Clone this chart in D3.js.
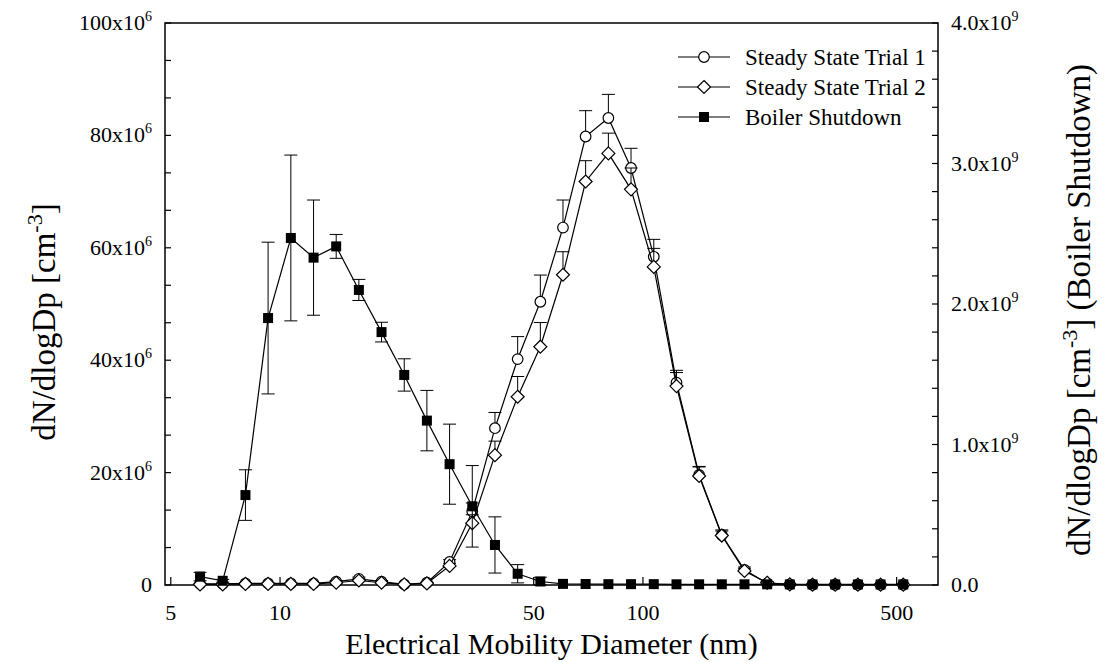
<!DOCTYPE html>
<html>
<head>
<meta charset="utf-8">
<script src="https://cdn.jsdelivr.net/npm/d3@7"></script>
<style>
  body { margin: 0; background: #fff; }
  text { font-family: "Liberation Serif", "Times New Roman", serif; fill: #000; }
</style>
</head>
<body>
<div id="chart"></div>
<script>
var width = 1107;
var height = 662;

// particle diameter channels (nm)
var diameters = [6.02, 6.95, 8.03, 9.27, 10.71, 12.37, 14.28, 16.49, 19.04, 21.99, 25.39, 29.32,
    33.86, 39.10, 45.16, 52.15, 60.2, 69.5, 80.3, 92.7, 107.1, 123.7, 142.8, 164.9,
    190.4, 219.9, 253.9, 293.2, 338.6, 391.0, 451.6, 521.5];

// steady state trial 1, x10^6 cm^-3 (left axis)
var trial1 = [0.2, 0.2, 0.3, 0.3, 0.3, 0.3, 0.6, 1.1, 0.6, 0.1, 0.4, 4.1,
    13.1, 27.9, 40.2, 50.4, 63.6, 79.8, 83.1, 74.2, 58.4, 36.0, 19.6, 8.9,
    2.7, 0.3, 0.1, 0.05, 0.05, 0.05, 0.05, 0.05];
var trial1Err = [0.1, 0.1, 0.1, 0.1, 0.1, 0.1, 0.2, 0.3, 0.2, 0.1, 0.1, 0.4,
    1.5, 2.8, 4.0, 4.75, 4.9, 4.6, 4.2, 3.5, 3.1, 2.2, 1.5, 0.9,
    0.5, 0.2, 0, 0, 0, 0, 0, 0];

// steady state trial 2, x10^6 cm^-3 (left axis)
var trial2 = [0.1, 0.1, 0.2, 0.2, 0.2, 0.2, 0.4, 0.8, 0.4, 0.1, 0.3, 3.4,
    11.0, 23.1, 33.5, 42.4, 55.2, 71.8, 76.8, 70.4, 56.6, 35.4, 19.4, 8.8,
    2.5, 0.4, 0.1, 0.05, 0.05, 0.05, 0.05, 0.05];
var trial2Err = [0.1, 0.1, 0.1, 0.1, 0.1, 0.1, 0.2, 0.3, 0.2, 0.1, 0.1, 0.4,
    1.5, 2.5, 3.6, 4.3, 4.1, 3.7, 3.6, 3.8, 3.3, 2.4, 1.6, 0.8,
    0.4, 0.2, 0, 0, 0, 0, 0, 0];

// boiler shutdown, x10^9 cm^-3 (right axis)
var boiler = [0.06, 0.03, 0.64, 1.90, 2.47, 2.33, 2.41, 2.10, 1.80, 1.495, 1.17, 0.86,
    0.56, 0.285, 0.08, 0.025, 0.008, 0.007, 0.006, 0.006, 0.006, 0.005, 0.005, 0.005,
    0.005, 0.005, 0.004, 0.004, 0.004, 0.004, 0.004, 0.004];
var boilerErr = [0.03, 0.01, 0.18, 0.54, 0.59, 0.41, 0.085, 0.075, 0.07, 0.115, 0.215, 0.285,
    0.29, 0.2, 0.065, 0.03, 0, 0, 0, 0, 0, 0, 0, 0,
    0, 0, 0, 0, 0, 0, 0, 0];

var xTicks = [5, 10, 50, 100, 500];
var leftTicks = [0, 20, 40, 60, 80, 100];
var leftLabels = ['0', '20x10', '40x10', '60x10', '80x10', '100x10'];
var rightTicks = [0, 1, 2, 3, 4];
var rightLabels = ['0.0', '1.0x10', '2.0x10', '3.0x10', '4.0x10'];
var seriesNames = ['Steady State Trial 1', 'Steady State Trial 2', 'Boiler Shutdown'];

var plot = {left: 165, right: 938, top: 23, bottom: 585};

var x = d3.scaleLog().domain([4.82, 650]).range([plot.left, plot.right]);
var yLeft = d3.scaleLinear().domain([0, 100]).range([plot.bottom, plot.top]);
var yRight = d3.scaleLinear().domain([0, 4]).range([plot.bottom, plot.top]);

var svg = d3.select('#chart').append('svg')
    .attr('width', width)
    .attr('height', height);

// frame
svg.append('rect')
    .attr('x', plot.left)
    .attr('y', plot.top)
    .attr('width', plot.right - plot.left)
    .attr('height', plot.bottom - plot.top)
    .attr('fill', 'none')
    .attr('stroke', '#000')
    .attr('stroke-width', 1.5);

var tickLen = 6;

// left ticks: majors every 20, two minors in between
var leftMinor = d3.range(0, 16).map(function (i) { return i * 20 / 3; });
svg.append('g').selectAll('line')
    .data(leftMinor)
    .enter().append('line')
    .attr('x1', plot.left).attr('x2', plot.left + tickLen)
    .attr('y1', function (d) { return yLeft(d); })
    .attr('y2', function (d) { return yLeft(d); })
    .attr('stroke', '#000').attr('stroke-width', 1.2);

// right ticks every 0.2
var rightMinor = d3.range(0, 21).map(function (i) { return i * 0.2; });
svg.append('g').selectAll('line')
    .data(rightMinor)
    .enter().append('line')
    .attr('x1', plot.right).attr('x2', plot.right - tickLen)
    .attr('y1', function (d) { return yRight(d); })
    .attr('y2', function (d) { return yRight(d); })
    .attr('stroke', '#000').attr('stroke-width', 1.2);

// bottom ticks
svg.append('g').selectAll('line')
    .data(xTicks)
    .enter().append('line')
    .attr('x1', function (d) { return x(d); })
    .attr('x2', function (d) { return x(d); })
    .attr('y1', plot.bottom).attr('y2', plot.bottom - 8)
    .attr('stroke', '#000').attr('stroke-width', 1.2);

// tick labels
svg.append('g').selectAll('text')
    .data(xTicks)
    .enter().append('text')
    .attr('x', function (d) { return x(d); })
    .attr('y', 620)
    .attr('text-anchor', 'middle')
    .style('font-size', '22px')
    .text(function (d) { return d; });

function supLabel(sel, exp) {
    sel.append('tspan').text(function (d) { return d.label; });
    sel.filter(function (d) { return d.label.indexOf('x10') >= 0; })
        .append('tspan')
        .attr('dy', -9)
        .style('font-size', '14px')
        .text(exp);
}

var leftG = svg.append('g').selectAll('text')
    .data(leftTicks.map(function (v, i) { return {v: v, label: leftLabels[i]}; }))
    .enter().append('text')
    .attr('x', 152)
    .attr('y', function (d) { return yLeft(d.v) + 7; })
    .attr('text-anchor', 'end')
    .style('font-size', '22px');
supLabel(leftG, '6');

var rightG = svg.append('g').selectAll('text')
    .data(rightTicks.map(function (v, i) { return {v: v, label: rightLabels[i]}; }))
    .enter().append('text')
    .attr('x', 951)
    .attr('y', function (d) { return yRight(d.v) + 7; })
    .attr('text-anchor', 'start')
    .style('font-size', '22px');
supLabel(rightG, '9');

// axis titles
svg.append('text')
    .attr('x', (plot.left + plot.right) / 2)
    .attr('y', 654)
    .attr('text-anchor', 'middle')
    .style('font-size', '30px')
    .text('Electrical Mobility Diameter (nm)');

var lt = svg.append('text')
    .attr('transform', 'translate(55,322) rotate(-90)')
    .attr('text-anchor', 'middle')
    .style('font-size', '33px');
lt.append('tspan').text('dN/dlogDp [cm');
lt.append('tspan').attr('dy', -13).style('font-size', '22px').text('-3');
lt.append('tspan').attr('dy', 13).text(']');

var rt = svg.append('text')
    .attr('transform', 'translate(1090,310) rotate(-90)')
    .attr('text-anchor', 'middle')
    .style('font-size', '33px');
rt.append('tspan').text('dN/dlogDp [cm');
rt.append('tspan').attr('dy', -13).style('font-size', '22px').text('-3');
rt.append('tspan').attr('dy', 13).text('] (Boiler Shutdown)');

// markers
function drawMarker(g, type, cx, cy) {
    if (type === 'circle') {
        g.append('circle').attr('cx', cx).attr('cy', cy).attr('r', 5.3)
            .attr('fill', '#fff').attr('stroke', '#000').attr('stroke-width', 1.2);
    } else if (type === 'diamond') {
        var s = 6.5;
        g.append('path')
            .attr('d', 'M' + cx + ',' + (cy - s) + 'L' + (cx + s) + ',' + cy +
                'L' + cx + ',' + (cy + s) + 'L' + (cx - s) + ',' + cy + 'Z')
            .attr('fill', '#fff').attr('stroke', '#000').attr('stroke-width', 1.2);
    } else {
        g.append('rect').attr('x', cx - 5).attr('y', cy - 5)
            .attr('width', 10).attr('height', 10).attr('fill', '#000');
    }
}

var series = [
    {vals: trial1, err: trial1Err, y: yLeft, type: 'circle', both: false},
    {vals: trial2, err: trial2Err, y: yLeft, type: 'diamond', both: false},
    {vals: boiler, err: boilerErr, y: yRight, type: 'square', both: true}
];

var capW = 6.5;

series.forEach(function (s) {
    var g = svg.append('g');
    var line = d3.line()
        .x(function (d, i) { return x(diameters[i]); })
        .y(function (d) { return s.y(d); });

    g.append('path')
        .datum(s.vals)
        .attr('d', line)
        .attr('fill', 'none')
        .attr('stroke', '#000')
        .attr('stroke-width', 1.2);

    // error bars
    s.vals.forEach(function (v, i) {
        var e = s.err[i];
        if (!e) return;
        var cx = x(diameters[i]);
        var top = s.y(v + e);
        var bot = s.both ? s.y(Math.max(0, v - e)) : s.y(v);
        g.append('line').attr('x1', cx).attr('x2', cx).attr('y1', top).attr('y2', bot)
            .attr('stroke', '#000').attr('stroke-width', 1);
        g.append('line').attr('x1', cx - capW).attr('x2', cx + capW).attr('y1', top).attr('y2', top)
            .attr('stroke', '#000').attr('stroke-width', 1);
        if (s.both) {
            g.append('line').attr('x1', cx - capW).attr('x2', cx + capW).attr('y1', bot).attr('y2', bot)
                .attr('stroke', '#000').attr('stroke-width', 1);
        }
    });

    s.vals.forEach(function (v, i) {
        drawMarker(g, s.type, x(diameters[i]), s.y(v));
    });
});

// legend
var legend = svg.append('g');
var legendTypes = ['circle', 'diamond', 'square'];
seriesNames.forEach(function (name, i) {
    var ly = 57 + i * 30;
    legend.append('line').attr('x1', 678).attr('x2', 730).attr('y1', ly).attr('y2', ly)
        .attr('stroke', '#000').attr('stroke-width', 1.2);
    drawMarker(legend, legendTypes[i], 704, ly);
    legend.append('text')
        .attr('x', 745)
        .attr('y', ly + 8)
        .style('font-size', '23px')
        .text(name);
});
</script>
</body>
</html>
